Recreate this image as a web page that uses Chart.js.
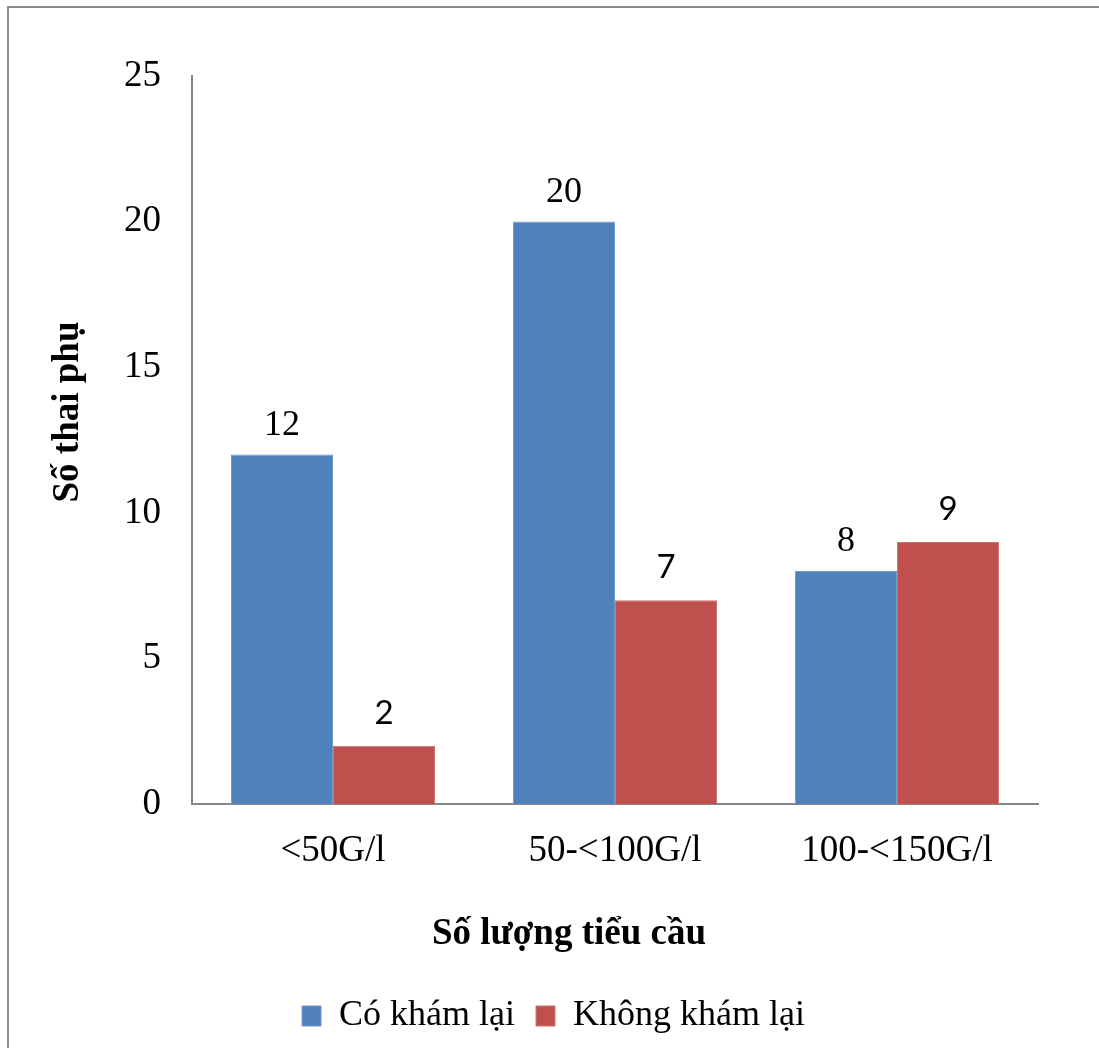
<!DOCTYPE html>
<html lang="vi">
<head>
<meta charset="utf-8">
<title>Số lượng tiểu cầu</title>
<script src="https://cdn.jsdelivr.net/npm/chart.js@4.4.1/dist/chart.umd.min.js"></script>
<style>
  html, body { margin: 0; padding: 0; background: #ffffff; }
  #wrap { width: 1099px; height: 1048px; position: relative; }
  canvas { display: block; }
</style>
</head>
<body>
<div id="wrap"><canvas id="chart" width="1099" height="1048"></canvas></div>
<script>
// Platelet count groups and number of pregnant women per follow-up status
const categories = ['<50G/l', '50-<100G/l', '100-<150G/l'];
const seriesNames = ['Có khám lại', 'Không khám lại'];
const coKhamLai = [12, 20, 8];
const khongKhamLai = [2, 7, 9];
const yTickValues = [0, 5, 10, 15, 20, 25];
const xTitle = 'Số lượng tiểu cầu';
const yTitle = 'Số thai phụ';

const SERIF = "'Liberation Serif', 'Times New Roman', serif";
const SANS = "Lato, 'Liberation Sans', sans-serif";
const AXIS_GRAY = '#868686';

Chart.defaults.font.family = SERIF;
Chart.defaults.color = '#000000';

// Thin frame along the top and left edges
const framePlugin = {
  id: 'frame',
  beforeDraw(chart) {
    const ctx = chart.ctx;
    ctx.save();
    ctx.fillStyle = '#ffffff';
    ctx.fillRect(0, 0, chart.width, chart.height);
    ctx.fillStyle = '#8c8c8c';
    ctx.fillRect(7, 6, chart.width - 7, 2);
    ctx.fillRect(7, 6, 2, chart.height - 6);
    ctx.restore();
  }
};

// Axis titles, bold serif
const axisTitlePlugin = {
  id: 'axisTitles',
  afterDraw(chart) {
    const ctx = chart.ctx;
    ctx.save();
    ctx.fillStyle = '#000000';
    ctx.font = "bold 37px " + SERIF;
    ctx.textAlign = 'center';
    ctx.textBaseline = 'alphabetic';
    ctx.fillText(xTitle, 569, 944);
    ctx.translate(78, 412);
    ctx.rotate(-Math.PI / 2);
    ctx.fillText(yTitle, 0, 0);
    ctx.restore();
  }
};

// Value labels above each bar
const valueLabelPlugin = {
  id: 'valueLabels',
  afterDatasetsDraw(chart) {
    const ctx = chart.ctx;
    ctx.save();
    ctx.fillStyle = '#000000';
    ctx.textAlign = 'center';
    ctx.textBaseline = 'alphabetic';
    chart.data.datasets.forEach((ds, di) => {
      const meta = chart.getDatasetMeta(di);
      ctx.font = di === 0 ? ("36px " + SERIF) : ("33px " + SANS);
      const gap = di === 0 ? 20 : 22;
      meta.data.forEach((bar, i) => {
        ctx.fillText(String(ds.data[i]), bar.x, bar.y - gap);
      });
    });
    ctx.restore();
  }
};

new Chart(document.getElementById('chart'), {
  type: 'bar',
  data: {
    labels: categories,
    datasets: [
      {
        label: seriesNames[0],
        data: coKhamLai,
        backgroundColor: '#4F81BD',
        borderColor: '#7498C8',
        borderWidth: 1,
        yAxisID: 'y'
      },
      {
        label: seriesNames[1],
        data: khongKhamLai,
        backgroundColor: '#C0504D',
        borderColor: '#CD7472',
        borderWidth: 1,
        yAxisID: 'y'
      }
    ]
  },
  options: {
    responsive: false,
    animation: false,
    devicePixelRatio: 1,
    categoryPercentage: 0.7234,
    barPercentage: 1.0,
    layout: { padding: { left: 8, right: 0, top: 76, bottom: 4 } },
    plugins: {
      legend: {
        display: true,
        position: 'bottom',
        align: 'center',
        labels: {
          font: { family: SERIF, size: 36 },
          color: '#000000',
          boxWidth: 19,
          boxHeight: 20,
          padding: 21
        }
      },
      tooltip: { enabled: false },
      title: { display: false }
    },
    scales: {
      x: {
        type: 'category',
        grid: { display: false, drawTicks: false },
        border: { display: true, color: AXIS_GRAY, width: 2 },
        ticks: {
          font: { family: SERIF, size: 37 },
          color: '#000000',
          padding: 25,
          maxRotation: 0,
          autoSkip: false
        },
        afterFit(scale) { scale.height = 173; }
      },
      y: {
        type: 'linear',
        position: 'left',
        min: yTickValues[0],
        max: yTickValues[yTickValues.length - 1],
        grid: { display: false, drawTicks: false },
        border: { display: true, color: AXIS_GRAY, width: 2 },
        ticks: {
          stepSize: yTickValues[1] - yTickValues[0],
          font: { family: SERIF, size: 37 },
          color: '#000000',
          padding: 31
        },
        afterBuildTicks(scale) {
          scale.ticks = yTickValues.map(v => ({ value: v }));
        },
        afterFit(scale) { scale.width = 184; }
      },
      gutter: {
        type: 'linear',
        position: 'right',
        display: true,
        grid: { display: false, drawTicks: false },
        border: { display: false },
        ticks: { display: false },
        afterFit(scale) { scale.width = 61; }
      }
    }
  },
  plugins: [framePlugin, axisTitlePlugin, valueLabelPlugin]
});
</script>
</body>
</html>
